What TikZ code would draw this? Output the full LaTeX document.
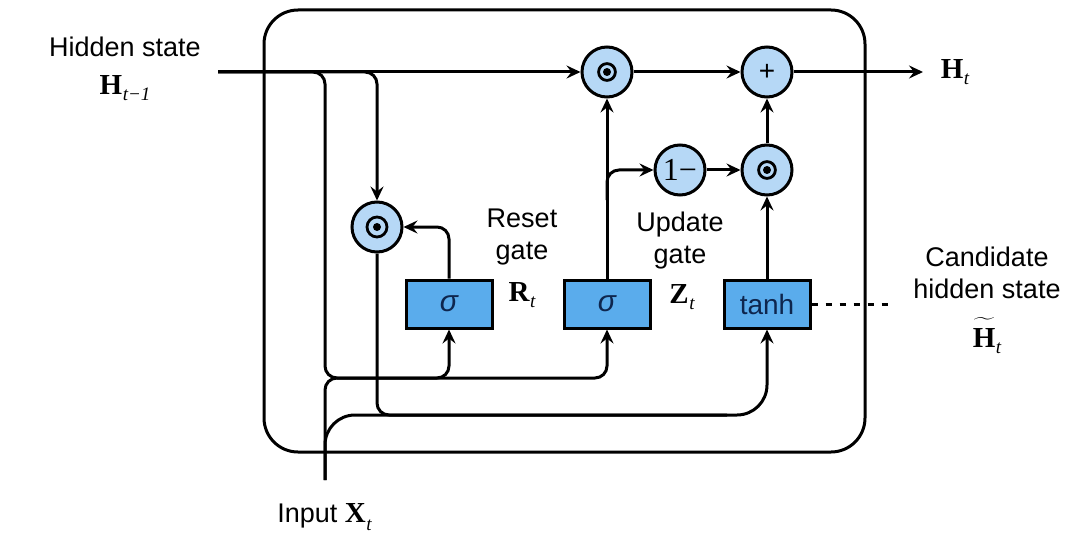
\documentclass[tikz,border=0pt]{standalone}
\usepackage{fontspec}
\setmainfont{Liberation Sans}
\newfontfamily\serifrm{Liberation Serif}
\usetikzlibrary{arrows.meta,calc}
\definecolor{circfill}{RGB}{182,216,246}
\definecolor{boxfill}{RGB}{90,172,236}
\definecolor{inktext}{RGB}{14,38,78}
\newcommand\bvar[2]{{\serifrm\bfseries\fontsize{14.5}{14.5}\selectfont #1}\kern0.3pt\raisebox{-0.6ex}{\serifrm\itshape\fontsize{9.5}{10}\selectfont #2}}
\newcommand\odotmark[2]{\draw[line width=1.4pt] (#1) circle[radius=#2]; \fill (#1) circle[radius=2pt];}
\tikzset{
  conn/.style={line width=1.5pt, rounded corners=6pt},
  arr/.style={-{Stealth[length=7pt,width=6.5pt,inset=2.5pt]}},
  opcirc/.style={circle, draw, line width=1.5pt, fill=circfill, minimum size=25pt, inner sep=0pt},
  gatebox/.style={rectangle, draw, line width=1.5pt, fill=boxfill, minimum width=43pt, minimum height=24pt, inner sep=0pt, text=inktext, font=\fontsize{14}{14}\selectfont},
  lbl/.style={font=\fontsize{13.5}{16}\selectfont, align=center, inner sep=0pt},
  mathlbl/.style={inner sep=0pt},
}
\begin{document}
\begin{tikzpicture}[x=0.5pt,y=-0.5pt]
\useasboundingbox (0,0) rectangle (1066,540);
% cell frame
\draw[line width=1.5pt, rounded corners=17pt] (264,10) rectangle (865,452);
% operator nodes
\node[opcirc] (mtop) at (607,72) {};
\node[opcirc] (plus) at (767,72) {\fontsize{14}{14}\selectfont +};
\node[opcirc] (omz) at (680,170) {\serifrm\fontsize{16}{16}\selectfont 1−};
\node[opcirc] (mz) at (767,170) {};
\node[opcirc] (mr) at (377,227) {};
\node[gatebox] (rg) at (449,304) {\fontsize{15}{15}\selectfont\itshape σ};
\node[gatebox] (ug) at (607,304) {\fontsize{15}{15}\selectfont\itshape σ};
\node[gatebox] (cg) at (767,304) {tanh};
\odotmark{mtop}{4.2pt}
\odotmark{mz}{4.2pt}
\odotmark{mr}{5pt}
% coordinates
\coordinate (hin) at (218,72);
\coordinate (hout) at (923,72);
\coordinate (xin) at (325,480);
\coordinate (dotend) at (892,304);
\coordinate (ka) at (325,72);
\coordinate (kb) at (325,378);
\coordinate (kc) at (325,415);
% connectors
\draw[conn,arr] (hin) -- (mtop);
\draw[conn,arr] (hin) -- (ka) -- (kb) -- (rg.south |- kb) -- (rg.south);
\draw[conn,arr] (hin) -- (mr.north |- hin) -- (mr.north);
\draw[conn,arr] (xin) -- (kb) -- (ug.south |- kb) -- (ug.south);
\draw[conn,arr,rounded corners=15pt] (xin) -- (kc) -- (cg.south |- kc) -- (cg.south);
\draw[conn] (mr.south) -- (mr.south |- kc) -- ($(cg.south |- kc)+(-40,0)$);
\draw[conn,arr] (rg.north) -- (rg.north |- mr) -- (mr.east);
\draw[conn,arr] (ug.north) -- (mtop.south);
\draw[conn,arr] ($(ug.north |- omz)+(0,30)$) -- (ug.north |- omz) -- (omz.west);
\draw[conn,arr] (omz) -- (mz);
\draw[conn,arr] (cg.north) -- (mz.south);
\draw[conn,arr] (mz) -- (plus);
\draw[conn,arr] (mtop) -- (plus);
\draw[conn,arr] (plus) -- (hout);
\draw[line width=1.5pt, dash pattern=on 3pt off 4pt] (cg.east) -- (dotend);
% labels
\node[lbl] (hlab) at (125,47) {Hidden state};
\node[mathlbl] (hprev) at (125,88) {\bvar{H}{t−1}};
\node[lbl] (rlab) at (522,237) {Reset\\gate};
\node[mathlbl] (rsym) at (522,295) {\bvar{R}{t}};
\node[lbl] (ulab) at (680,241) {Update\\gate};
\node[mathlbl] (zsym) at (682,297) {\bvar{Z}{t}};
\node[lbl] (clab) at (987,273) {Candidate\\hidden state};
\node[mathlbl, anchor=base] (htil) at (987,347) {\bvar{$\widetilde{\mbox{\rule{0pt}{0.8em}H}}$}{t}};
\node[mathlbl] (hnext) at (955,72) {\bvar{H}{t}};
\node[lbl, anchor=west] (xlab) at (277,517) {Input \bvar{X}{t}};
\end{tikzpicture}
\end{document}
